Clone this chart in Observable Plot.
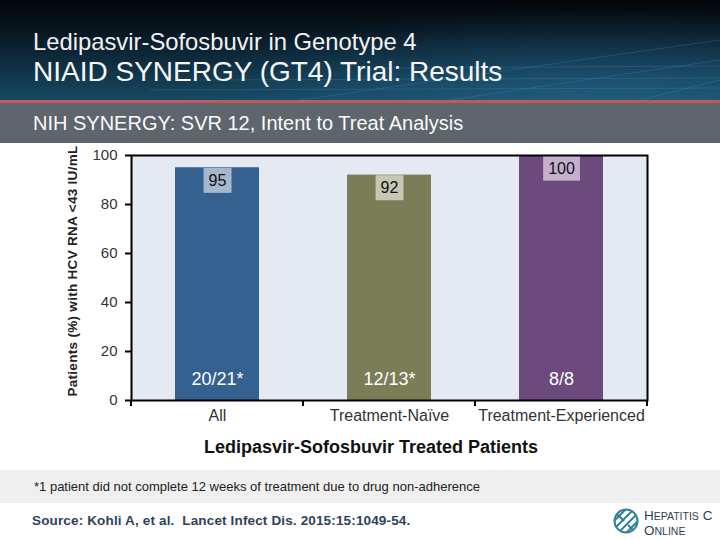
<!DOCTYPE html>
<html><head><meta charset="utf-8">
<script src="https://cdn.jsdelivr.net/npm/d3@7"></script>
<script src="https://cdn.jsdelivr.net/npm/@observablehq/plot@0.6"></script>
<style>
body{margin:0;width:720px;height:540px;position:relative;overflow:hidden;background:#fff;font-family:"Liberation Sans",Arial,sans-serif}
#header{position:absolute;left:0;top:0;width:720px;height:100px;
 background:radial-gradient(ellipse 420px 90px at 600px 100px, rgba(40,110,150,0.55), rgba(40,110,150,0) 100%),
 linear-gradient(to bottom,#04070a 0%,#081620 30%,#0f2f42 65%,#174862 100%);}
#redline{position:absolute;left:0;top:100px;width:720px;height:3px;background:#bf5a5c}
#band{position:absolute;left:0;top:103px;width:720px;height:40px;background:#5e656d}
.t1{position:absolute;left:33px;top:28px;color:#f2f2f2;font-size:23.8px;white-space:nowrap}
.t2{position:absolute;left:33px;top:56px;color:#f6f6f6;font-size:28px;white-space:nowrap}
.t3{position:absolute;left:33px;top:112px;color:#fafafa;font-size:20px;white-space:nowrap}
#chart{position:absolute;left:0;top:145px}
#ylab{position:absolute;left:72px;top:271px;transform:translate(-50%,-50%) rotate(-90deg);white-space:nowrap;font-weight:bold;font-size:13.5px;letter-spacing:0.3px;color:#222}
#xlab{position:absolute;left:371px;top:437px;transform:translateX(-50%);white-space:nowrap;font-weight:bold;font-size:18px;color:#111}
#foot{position:absolute;left:0;top:470px;width:720px;height:33px;background:#efefef}
#foot span{position:absolute;left:34px;top:9px;font-size:13px;color:#222;white-space:nowrap}
#src{position:absolute;left:32px;top:513px;font-size:13.5px;letter-spacing:0.15px;font-weight:bold;color:#2e4258;white-space:nowrap}
#logo{position:absolute;left:610px;top:505px}
</style></head><body>
<div id="header"><svg width="720" height="100" style="position:absolute;left:0;top:0">
<g stroke="#5aa8d0" stroke-opacity="0.2" stroke-width="1" fill="none">
<line x1="300" y1="100" x2="720" y2="40"/><line x1="450" y1="100" x2="720" y2="60"/>
<line x1="200" y1="80" x2="720" y2="78"/><line x1="150" y1="90" x2="720" y2="88"/>
<line x1="380" y1="68" x2="720" y2="66"/><line x1="640" y1="100" x2="720" y2="80"/>
</g></svg>
<div class="t1">Ledipasvir-Sofosbuvir in Genotype 4</div>
<div class="t2">NIAID SYNERGY (GT4) Trial: Results</div>
</div>
<div id="redline"></div>
<div id="band"><div class="t3" style="top:9px">NIH SYNERGY: SVR 12, Intent to Treat Analysis</div></div>
<div id="chart"></div>
<div id="ylab">Patients (%) with HCV RNA &lt;43 IU/mL</div>
<div id="xlab">Ledipasvir-Sofosbuvir Treated Patients</div>
<div id="foot"><span>*1 patient did not complete 12 weeks of treatment due to drug non-adherence</span></div>
<div id="src">Source: Kohli A, et al.&nbsp; Lancet Infect Dis. 2015:15:1049-54.</div>
<div id="logo"><svg width="110" height="34">
<defs><clipPath id="cc"><circle cx="16" cy="16" r="11"/></clipPath></defs>
<circle cx="16" cy="16" r="11.5" fill="none" stroke="#2f8197" stroke-width="2"/>
<g clip-path="url(#cc)" stroke="#2f8197" stroke-width="2">
<line x1="2" y1="18" x2="18" y2="2"/><line x1="6" y1="22" x2="22" y2="6"/><line x1="10" y1="26" x2="26" y2="10"/><line x1="14" y1="30" x2="30" y2="14"/>
<line x1="4" y1="6" x2="14" y2="16"/><line x1="18" y1="20" x2="28" y2="30"/>
</g>
<text x="34" y="15" font-family="Liberation Sans, Arial" fill="#2e3e4e" font-size="13.5">H<tspan font-size="10.5">EPATITIS</tspan> C</text>
<text x="34" y="30" font-family="Liberation Sans, Arial" fill="#2e3e4e" font-size="13.5">O<tspan font-size="10.5">NLINE</tspan></text>
</svg></div>
<script>
const groups = ["All", "Treatment-Naïve", "Treatment-Experienced"];
const svr = [95, 92, 100];
const counts = ["20/21*", "12/13*", "8/8"];
const barColors = ["#346190", "#7b7d57", "#6d4a7e"];
const boxColors = ["#a5b7cd", "#c6c7b3", "#c4b0cd"];
const yTicks = [0, 20, 40, 60, 80, 100];

const data = groups.map((g, i) => ({group: g, value: svr[i], count: counts[i], box: boxColors[i]}));

function boundaryTicks(index, scales, values, dims) {
  const g = d3.create("svg:g").attr("stroke", "black").attr("stroke-width", 2);
  const starts = groups.map(c => scales.x(c));
  const step = starts[1] - starts[0];
  const xs = starts.concat([starts[starts.length - 1] + step]);
  const y0 = dims.height - dims.marginBottom;
  xs.forEach(x => g.append("line").attr("x1", x).attr("x2", x).attr("y1", y0).attr("y2", y0 + 6));
  return g.node();
}

const chart = Plot.plot({
  width: 720, height: 320,
  marginTop: 10, marginBottom: 65, marginLeft: 131, marginRight: 73,
  style: {background: "transparent", fontFamily: "Liberation Sans, Arial, sans-serif", color: "#333", overflow: "visible"},
  x: {domain: groups, padding: 0, axis: null},
  y: {domain: [0, 100], axis: null},
  color: {domain: groups, range: barColors},
  marks: [
    Plot.frame({fill: "#e5e9f1"}),
    Plot.barY(data, {x: "group", y: "value", fill: "group", insetLeft: 44, insetRight: 44}),
    Plot.text(data, {x: "group", y: "value", text: d => String(d.value), dy: 13, fontSize: 16, fill: "#111"}),
    Plot.text(data, {x: "group", y: 0, text: "count", dy: -21, fontSize: 18, fill: "white"}),
    Plot.axisY({ticks: yTicks, tickSize: 6, tickPadding: 8, fontSize: 15, label: null, stroke: "black", strokeWidth: 2, fill: "#333"}),
    Plot.axisX({tickSize: 0, tickPadding: 9, fontSize: 16, label: null, fill: "#333"}),
    boundaryTicks,
    Plot.frame({stroke: "black", strokeWidth: 2})
  ]
});
document.getElementById("chart").appendChild(chart);

const textGroups = chart.querySelectorAll('g[aria-label="text"]');
if (textGroups.length) {
  textGroups[0].querySelectorAll("text").forEach((el, i) => {
    const b = el.getBBox();
    const r = document.createElementNS("http://www.w3.org/2000/svg", "rect");
    const pad = 5;
    r.setAttribute("x", b.x - pad);
    r.setAttribute("width", b.width + 2 * pad);
    r.setAttribute("y", b.y + b.height / 2 - 12.5);
    r.setAttribute("height", 25);
    r.setAttribute("fill", data[i].box);
    const t = el.getAttribute("transform");
    if (t) r.setAttribute("transform", t);
    el.parentNode.insertBefore(r, el);
  });
}
</script>
</body></html>
